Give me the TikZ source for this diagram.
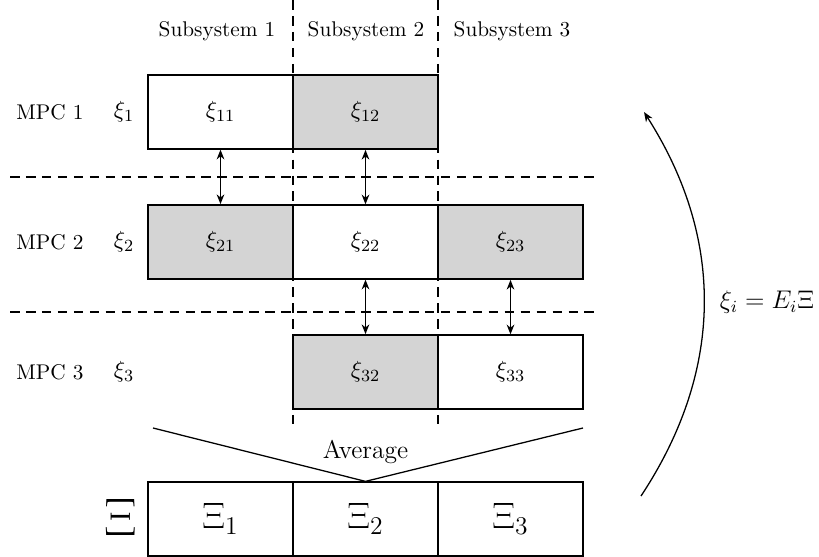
\documentclass[tikz,border=0pt]{standalone}
\usetikzlibrary{arrows,arrows.meta}
\definecolor{shade}{gray}{0.83}
\begin{document}
\begin{tikzpicture}[x=0.47pt,y=-0.47pt]

\tikzstyle{share}  = [{Stealth[length=4.6pt,width=3.6pt]}-{Stealth[length=4.6pt,width=3.6pt]},semithick]
\tikzstyle{sep}  = [dash pattern=on 4.5pt off 3pt,semithick]
\tikzstyle{cell}  = [
  rectangle,
  draw,
  inner sep=0pt,
  minimum width=145*0.47pt,
  minimum height=74*0.47pt,
  font=\fontsize{11}{13}\selectfont]
\tikzstyle{own}  = [cell,semithick]
\tikzstyle{lent}  = [cell,fill=shade,thick]
\tikzstyle{glob}  = [cell,semithick,font=\fontsize{18.5}{22}\selectfont]

\useasboundingbox (0,0) rectangle (819,557);

\def\cx{75.5}
\def\cw{145}
\def\ry{112}
\def\rh{130}

% subsystem borders and MPC borders
\draw[sep] (293,0) -- (293,428);
\draw[sep] (438,0) -- (438,428);
\draw[sep] (10,177) -- (597,177);
\draw[sep] (10,312) -- (597,312);

\node (sub1) at (217,31) {Subsystem 1};
\node (sub2) at (366,31) {Subsystem 2};
\node (sub3) at (512,31) {Subsystem 3};

\foreach \i in {1,2,3} {
  \node (mpc\i) at (50,\ry+\i*\rh-\rh) {MPC \i};
  \node[font=\fontsize{11}{13}\selectfont] (xi\i) at (124,\ry+\i*\rh-\rh) {$\xi_{\i}$};
}

\def\cell#1#2#3{\node[#3] (m#1#2) at (\cx+#2*\cw,\ry+#1*\rh-\rh) {$\xi_{#1#2}$};}

\cell{1}{1}{own};
\cell{1}{2}{lent};
\cell{2}{1}{lent};
\cell{2}{2}{own};
\cell{2}{3}{lent};
\cell{3}{2}{lent};
\cell{3}{3}{own};

\draw[share] (m11) -- (m21);
\draw[share] (m12) -- (m22);
\draw[share] (m22) -- (m32);
\draw[share] (m23) -- (m33);

% global vector
\foreach \j in {1,2,3}
  \node[glob] (X\j) at (\cx+\j*\cw,519) {$\Xi_{\j}$};
\node[font=\Huge] (Xi) at (121,517) {$\Xi$};

\coordinate (avl) at (153,428);
\coordinate (avr) at (583,428);
\draw[semithick] (avl) -- (X2.north) -- (avr);
\node[font=\large] (avg) at (\cx+2*\cw,452) {Average};

\coordinate (cs) at (641,496);
\coordinate (ce) at (644,112);
\draw[-{Stealth[length=4.6pt,width=3.6pt]},semithick] (cs) to[bend right=33] (ce);
\node[font=\large] (map) at (767,302) {$\xi_i = E_i\Xi$};

\end{tikzpicture}
\end{document}
